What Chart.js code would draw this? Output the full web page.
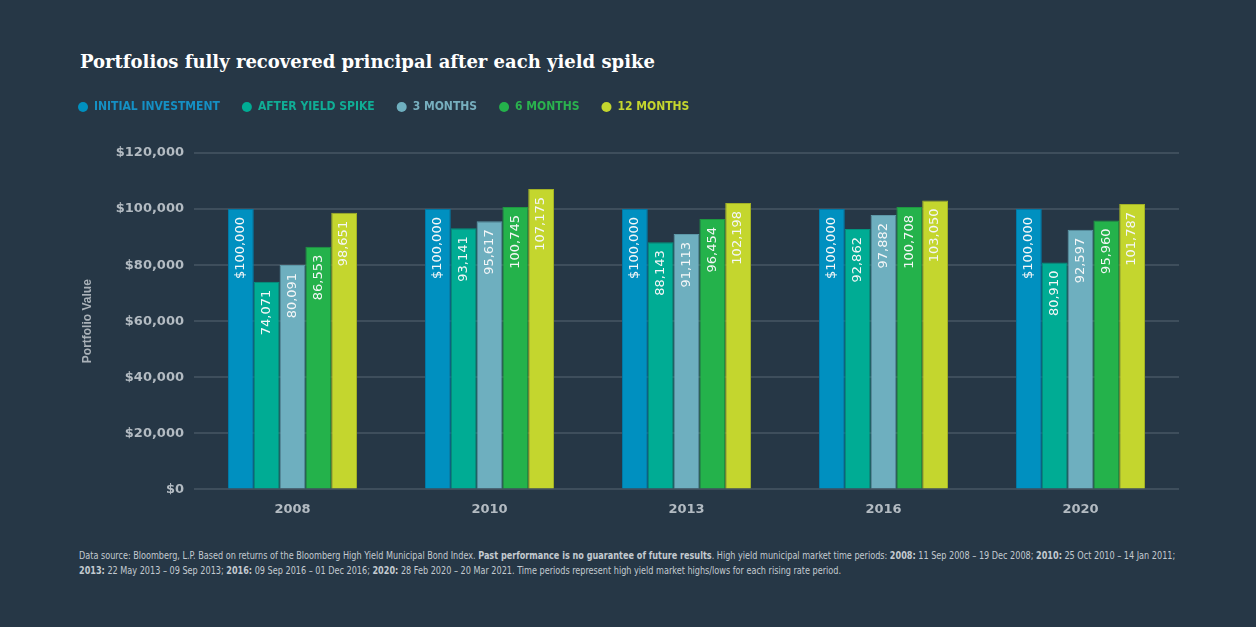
<!DOCTYPE html>
<html>
<head>
<meta charset="utf-8">
<script src="https://cdn.jsdelivr.net/npm/chart.js@4/dist/chart.umd.min.js"></script>
<style>
  html, body { margin: 0; padding: 0; background: #263746; }
  body { width: 1256px; height: 627px; position: relative; overflow: hidden; }
  #title {
    position: absolute; left: 80px; top: 51px;
    font: bold 18px "DejaVu Serif", serif;
    color: #ffffff;
  }
  #wrap { position: absolute; left: 0; top: 0; width: 1256px; height: 530px; }
  #note {
    position: absolute; left: 79px; top: 548px;
    font: 11px "DejaVu Sans Condensed", sans-serif;
    line-height: 15px; color: #c3cad0; white-space: nowrap;
    transform: scaleX(0.82); transform-origin: 0 0;
  }
  #note b { font-weight: bold; }
</style>
</head>
<body>
<div id="title">Portfolios fully recovered principal after each yield spike</div>
<div id="wrap"><canvas id="portfolioChart"></canvas></div>
<div id="note">Data source: Bloomberg, L.P. Based on returns of the Bloomberg High Yield Municipal Bond Index. <b>Past performance is no guarantee of future results</b>. High yield municipal market time periods: <b>2008:</b> 11 Sep 2008 – 19 Dec 2008; <b>2010:</b> 25 Oct 2010 – 14 Jan 2011;<br><b>2013:</b> 22 May 2013 – 09 Sep 2013; <b>2016:</b> 09 Sep 2016 – 01 Dec 2016; <b>2020:</b> 28 Feb 2020 – 20 Mar 2021. Time periods represent high yield market highs/lows for each rising rate period.</div>

<script>
const years = ["2008", "2010", "2013", "2016", "2020"];
const initialInvestment = [100000, 100000, 100000, 100000, 100000];
const afterYieldSpike = [74071, 93141, 88143, 92862, 80910];
const threeMonths = [80091, 95617, 91113, 97882, 92597];
const sixMonths = [86553, 100745, 96454, 100708, 95960];
const twelveMonths = [98651, 107175, 102198, 103050, 101787];
const yTicks = [0, 20000, 40000, 60000, 80000, 100000, 120000];

const series = [
  { label: "INITIAL INVESTMENT", data: initialInvestment, color: "#0090c0", border: "#0079a6", text: "#1590c4" },
  { label: "AFTER YIELD SPIKE", data: afterYieldSpike, color: "#00ac94", border: "#00957f", text: "#10ad95" },
  { label: "3 MONTHS", data: threeMonths, color: "#6eafbf", border: "#5c98a8", text: "#77afbf" },
  { label: "6 MONTHS", data: sixMonths, color: "#24b24b", border: "#1d9940", text: "#2ab24e" },
  { label: "12 MONTHS", data: twelveMonths, color: "#c4d62e", border: "#a2b126", text: "#c4d62e" },
];

const money = (v) => "$" + v.toLocaleString("en-US");

// value labels written upward inside the top of each bar
const barLabels = {
  id: "barLabels",
  afterDatasetsDraw(chart) {
    const ctx = chart.ctx;
    ctx.save();
    ctx.font = '13px "DejaVu Sans", sans-serif';
    ctx.fillStyle = "#f4f6f7";
    ctx.textAlign = "right";
    ctx.textBaseline = "middle";
    chart.data.datasets.forEach((ds, i) => {
      chart.getDatasetMeta(i).data.forEach((bar, j) => {
        const v = ds.data[j];
        const text = i === 0 ? money(v) : v.toLocaleString("en-US");
        ctx.save();
        ctx.translate(bar.x, bar.y + 8);
        ctx.rotate(-Math.PI / 2);
        ctx.fillText(text, 0, 0);
        ctx.restore();
      });
    });
    ctx.restore();
  },
};

// extra room under the legend
const legendGap = {
  id: "legendGap",
  beforeInit(chart) {
    const fit = chart.legend.fit;
    chart.legend.fit = function () {
      fit.bind(chart.legend)();
      this.height += 30;
    };
  },
};

const ctx = document.getElementById("portfolioChart").getContext("2d");

new Chart(ctx, {
  type: "bar",
  data: {
    labels: years,
    datasets: series.map((s) => ({
      label: s.label,
      data: s.data,
      backgroundColor: s.color,
      borderColor: s.border,
      borderWidth: 1,
      barPercentage: 1,
      categoryPercentage: 0.655,
    })),
  },
  options: {
    responsive: true,
    maintainAspectRatio: false,
    animation: false,
    layout: { padding: { left: 56, right: 77, top: 79, bottom: 1 } },
    plugins: {
      tooltip: { enabled: false },
      legend: {
        position: "top",
        align: "start",
        labels: {
          usePointStyle: true,
          pointStyle: "circle",
          pointStyleWidth: 10,
          boxHeight: 7,
          padding: 22,
          font: { family: '"DejaVu Sans Condensed", sans-serif', size: 12, weight: "bold" },
          generateLabels(chart) {
            return chart.data.datasets.map((ds, i) => ({
              text: ds.label,
              fillStyle: ds.backgroundColor,
              strokeStyle: ds.backgroundColor,
              lineWidth: 0,
              fontColor: series[i].text,
              pointStyle: "circle",
              datasetIndex: i,
              hidden: false,
            }));
          },
        },
      },
    },
    scales: {
      x: {
        grid: { display: false, drawTicks: false },
        border: { display: false },
        ticks: {
          padding: 12,
          color: "#b3bbc2",
          font: { family: '"DejaVu Sans", sans-serif', size: 13, weight: "bold" },
        },
      },
      y: {
        min: 0,
        max: 120000,
        afterFit(scale) { scale.width = 194 - 56; },
        afterBuildTicks(scale) { scale.ticks = yTicks.map((v) => ({ value: v })); },
        grid: { color: "#3e4e5c", lineWidth: 2, drawTicks: false },
        border: { display: false },
        ticks: {
          padding: 10,
          color: "#b3bbc2",
          font: { family: '"DejaVu Sans", sans-serif', size: 13, weight: "bold" },
          callback: (v) => money(v),
        },
        title: {
          display: true,
          text: "Portfolio Value",
          color: "#a9b1b8",
          padding: { top: 24, bottom: 0 },
          font: { family: '"Liberation Sans", sans-serif', size: 12, weight: "bold" },
        },
      },
    },
  },
  plugins: [barLabels, legendGap],
});
</script>
</body>
</html>
